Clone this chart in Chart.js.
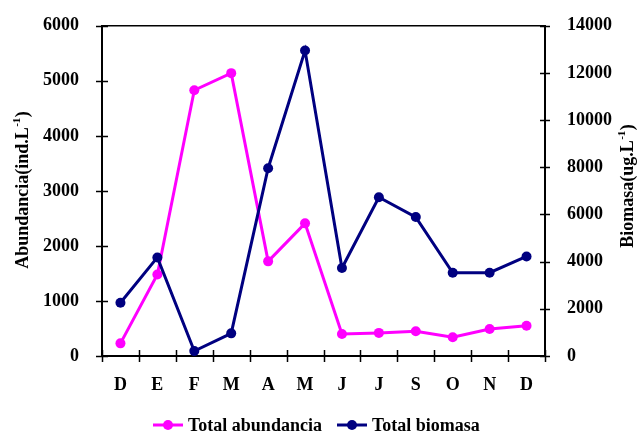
<!DOCTYPE html>
<html>
<head>
<meta charset="utf-8">
<script src="https://cdn.jsdelivr.net/npm/chart.js@4/dist/chart.umd.min.js"></script>
<style>
  html, body { margin: 0; padding: 0; background: #fff; }
  #wrap { width: 637px; height: 432px; position: relative; }
</style>
</head>
<body>
<div id="wrap"><canvas id="chart"></canvas></div>
<script>
// Monthly samples, December to December
const months = ['D', 'E', 'F', 'M', 'A', 'M', 'J', 'J', 'S', 'O', 'N', 'D'];
// Total abundance (ind.L-1), left axis
const abundance = [230, 1480, 4830, 5140, 1720, 2410, 400, 420, 450, 340, 490, 550];
// Total biomass (ug.L-1), right axis
const biomass = [2260, 4180, 210, 960, 7960, 12950, 3730, 6730, 5890, 3530, 3530, 4220];

const seriesNames = ['Total abundancia', 'Total biomasa'];
const leftTitle = ['Abundancia(ind.L', '-1', ')'];
const rightTitle = ['Biomasa(ug.L', '-1', ')'];

const FONT = '"Liberation Serif", "Times New Roman", serif';
const PINK = '#FF00FF';
const NAVY = '#000080';
const tickFont = { family: FONT, size: 18, weight: 'bold' };
const plainNumber = v => String(v);

// Rotated title with a superscript piece, centred on (cx, cy)
function drawRotatedTitle(ctx, parts, cx, cy) {
  ctx.save();
  ctx.translate(cx, cy);
  ctx.rotate(-Math.PI / 2);
  const big = 'bold 18px ' + FONT;
  const small = 'bold 11px ' + FONT;
  ctx.font = big;
  const w0 = ctx.measureText(parts[0]).width;
  const w2 = ctx.measureText(parts[2]).width;
  ctx.font = small;
  const w1 = ctx.measureText(parts[1]).width + 1;
  const total = w0 + w1 + w2;
  let x = -total / 2;
  ctx.fillStyle = '#000';
  ctx.textBaseline = 'alphabetic';
  ctx.textAlign = 'left';
  ctx.font = big;
  ctx.fillText(parts[0], x, 6);
  x += w0;
  ctx.font = small;
  ctx.fillText(parts[1], x + 0.5, -2);
  x += w1;
  ctx.font = big;
  ctx.fillText(parts[2], x, 6);
  ctx.restore();
}

const decorations = {
  id: 'decorations',
  afterDraw(chart) {
    const ctx = chart.ctx;
    const area = chart.chartArea;
    const sx = chart.scales.x, sy = chart.scales.y, sy1 = chart.scales.y1;
    ctx.save();
    ctx.strokeStyle = '#000';
    // top frame line
    ctx.lineWidth = 1.5;
    ctx.beginPath();
    ctx.moveTo(area.left, area.top);
    ctx.lineTo(area.right, area.top);
    ctx.stroke();
    // tick marks crossing the axes
    ctx.lineWidth = 1.5;
    ctx.beginPath();
    sy.ticks.forEach(t => {
      const p = Math.round(sy.getPixelForValue(t.value)) + 0.5;
      ctx.moveTo(area.left - 6, p);
      ctx.lineTo(area.left + 6, p);
    });
    sy1.ticks.forEach(t => {
      const p = Math.round(sy1.getPixelForValue(t.value)) + 0.5;
      ctx.moveTo(area.right - 5, p);
      ctx.lineTo(area.right + 5, p);
    });
    for (let i = 0; i <= months.length; i++) {
      const p = Math.round(sx.getPixelForValue(i - 0.5)) + 0.5;
      ctx.moveTo(p, area.bottom - 6);
      ctx.lineTo(p, area.bottom + 6);
    }
    ctx.stroke();
    ctx.restore();

    // axis titles
    drawRotatedTitle(ctx, leftTitle, 22, 190);
    drawRotatedTitle(ctx, rightTitle, 627, 186);

    // legend
    const items = [
      { x0: 153, color: PINK, label: chart.data.datasets[0].label },
      { x0: 337, color: NAVY, label: chart.data.datasets[1].label }
    ];
    const ly = 425;
    ctx.save();
    items.forEach(it => {
      ctx.strokeStyle = it.color;
      ctx.fillStyle = it.color;
      ctx.lineWidth = 3;
      ctx.beginPath();
      ctx.moveTo(it.x0, ly);
      ctx.lineTo(it.x0 + 30, ly);
      ctx.stroke();
      ctx.beginPath();
      ctx.arc(it.x0 + 15, ly, 5, 0, Math.PI * 2);
      ctx.fill();
      ctx.fillStyle = '#000';
      ctx.font = 'bold 18px ' + FONT;
      ctx.textAlign = 'left';
      ctx.textBaseline = 'middle';
      ctx.fillText(it.label, it.x0 + 35, ly + 1);
    });
    ctx.restore();
  }
};

new Chart(document.getElementById('chart'), {
  type: 'line',
  data: {
    labels: months,
    datasets: [
      {
        label: seriesNames[0],
        data: abundance,
        yAxisID: 'y',
        borderColor: PINK,
        backgroundColor: PINK,
        borderWidth: 3,
        pointRadius: 5,
        pointBorderWidth: 0,
        pointBackgroundColor: PINK,
        tension: 0,
        order: 1
      },
      {
        label: seriesNames[1],
        data: biomass,
        yAxisID: 'y1',
        borderColor: NAVY,
        backgroundColor: NAVY,
        borderWidth: 3,
        pointRadius: 5,
        pointBorderWidth: 0,
        pointBackgroundColor: NAVY,
        tension: 0,
        order: 0
      }
    ]
  },
  options: {
    responsive: true,
    maintainAspectRatio: false,
    animation: false,
    layout: { padding: { top: 24, left: 0, right: 0, bottom: 0 } },
    plugins: {
      legend: { display: false },
      tooltip: { enabled: false }
    },
    scales: {
      x: {
        type: 'category',
        offset: true,
        grid: { display: false, offset: true },
        border: { display: true, color: '#000', width: 2 },
        ticks: { color: '#000', font: tickFont, padding: 11, maxRotation: 0, autoSkip: false },
        afterFit(scale) { scale.height = 76; }
      },
      y: {
        position: 'left',
        min: 0,
        max: 6000,
        grid: { display: false },
        border: { display: true, color: '#000', width: 2 },
        ticks: { stepSize: 1000, color: '#000', font: tickFont, padding: 15, callback: plainNumber },
        afterFit(scale) { scale.width = 102; }
      },
      y1: {
        position: 'right',
        min: 0,
        max: 14000,
        grid: { display: false },
        border: { display: true, color: '#000', width: 2 },
        ticks: { stepSize: 2000, color: '#000', font: tickFont, padding: 14, callback: plainNumber },
        afterFit(scale) { scale.width = 92; }
      }
    }
  },
  plugins: [decorations]
});
</script>
</body>
</html>
